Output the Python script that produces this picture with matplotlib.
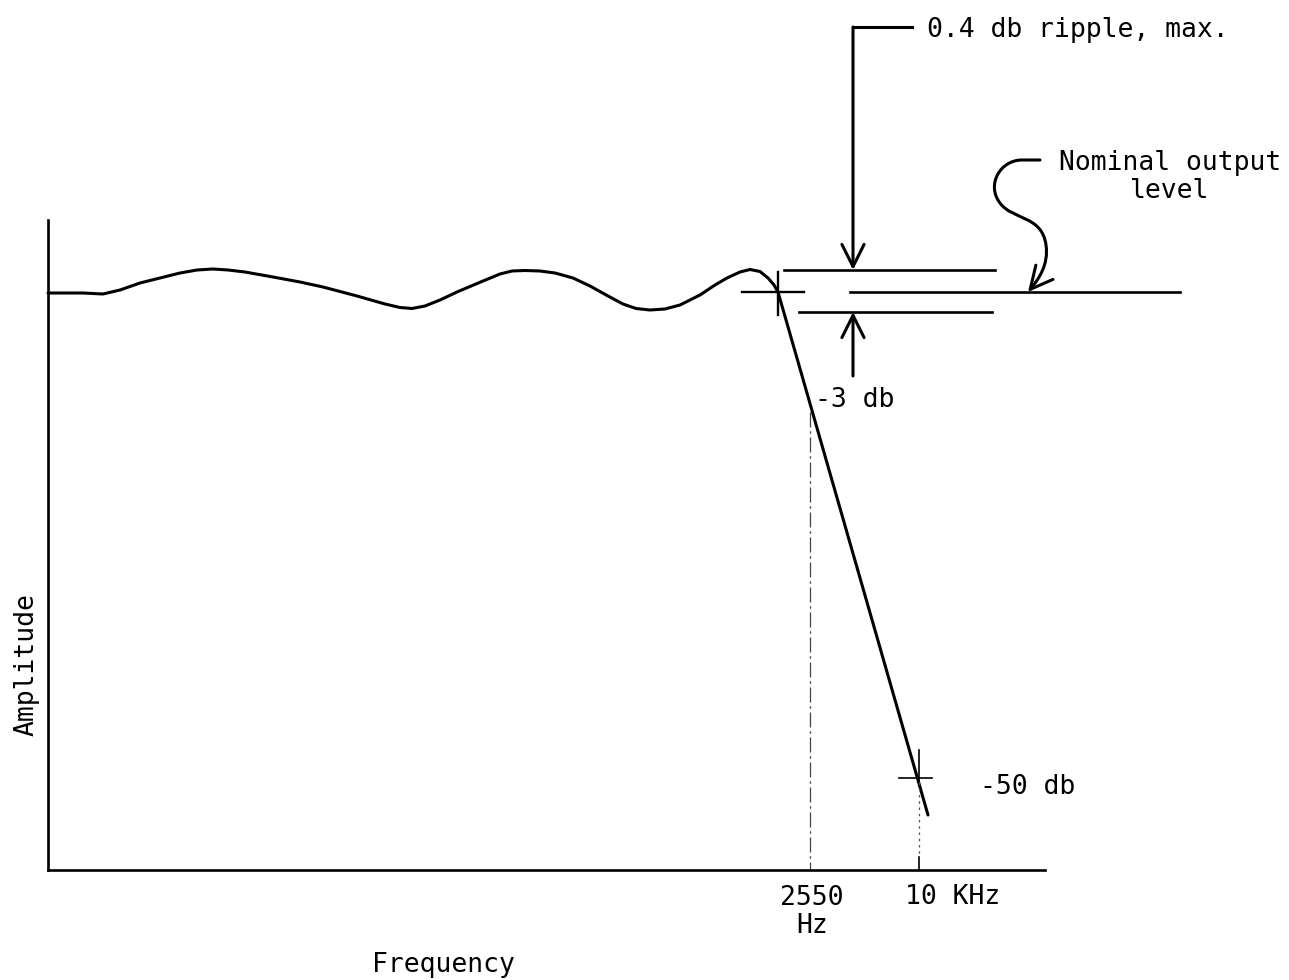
"""
Low-pass filter response sketch: passband ripple, -3 db at 2550 Hz, -50 db at 10 KHz.
Drawn in figure-pixel units (x right, y down) so the annotations line up with the scan.
"""
import matplotlib
matplotlib.use("Agg")
import matplotlib.pyplot as plt
from matplotlib.path import Path
from matplotlib.patches import FancyArrowPatch

plt.rcParams["font.family"] = ["DejaVu Sans Mono", "DejaVu Sans"]

# response curve (x = frequency position, y = amplitude position, y down)
resp_x = [48, 83, 103, 120, 140, 160, 180, 197, 213, 228, 245, 273, 300, 323, 357,
          385, 400, 412, 425, 440, 457, 483, 500, 512, 525, 540, 555, 573, 590, 608,
          623, 636, 650, 665, 680, 700, 715, 727, 740, 750, 760, 768, 774, 778, 928]
resp_y = [293, 293, 294, 290, 283, 278, 273, 270, 269, 270, 272, 277, 282, 287, 296,
          304, 307.5, 308.5, 306, 300, 292, 281, 274, 271, 270.5, 271, 273, 278, 286, 296,
          304, 308.5, 310, 309, 305, 295, 285, 278, 272, 269.5, 271.5, 278, 285, 292, 815]

# marker positions
f_3db, a_3db = 810, 404        # 2550 Hz, -3 db
f_50db, a_50db = 919, 778      # 10 KHz, -50 db
f_corner, a_nominal = 778, 292
a_ripple_top, a_ripple_bot = 270, 312

tick_labels = ["2550\nHz", "10 KHz"]

INK = "black"
FS = 19
HEAD = "->,head_length=0.8,head_width=0.4"

fig = plt.figure(figsize=(12.89, 9.80), dpi=100)
ax = fig.add_axes([48 / 1289, 110 / 980, 997 / 1289, 650 / 980])
ax.set_xlim(48, 1045)
ax.set_ylim(870, 220)
for s in ["top", "right"]:
    ax.spines[s].set_visible(False)
for s in ["left", "bottom"]:
    ax.spines[s].set_linewidth(1.9)
ax.set_xticks([])
ax.set_yticks([])

# response
ax.plot(resp_x, resp_y, color=INK, lw=2.2, solid_joinstyle="round",
        solid_capstyle="round", clip_on=False)

# -3 db / 2550 Hz drop line
ax.plot([f_3db, f_3db], [a_3db + 8, 870], color="#444444", lw=0.9,
        ls=(0, (12, 3, 2, 3)), clip_on=False)
# cross mark at the corner
ax.plot([742, 804], [a_nominal, a_nominal], color=INK, lw=1.7, clip_on=False)
ax.plot([f_corner, f_corner], [272, 315], color=INK, lw=1.7, clip_on=False)
# cross mark at -50 db and dotted drop to axis
ax.plot([899, 932], [a_50db, a_50db], color=INK, lw=1.2, clip_on=False)
ax.plot([f_50db, f_50db], [750, 782], color=INK, lw=1.2, clip_on=False)
ax.plot([f_50db, f_50db], [782, 857], color="#555555", lw=0.9, ls=(0, (2, 3)), clip_on=False)
ax.plot([f_50db, f_50db], [857, 870], color=INK, lw=1.2, clip_on=False)

# ripple band and nominal level
ax.plot([784, 995], [a_ripple_top, a_ripple_top], color=INK, lw=1.9, clip_on=False)
ax.plot([799, 992], [a_ripple_bot, a_ripple_bot], color=INK, lw=1.9, clip_on=False)
ax.plot([850, 1180], [a_nominal, a_nominal], color=INK, lw=1.9, clip_on=False)

# ripple arrows
arrow = dict(arrowstyle=HEAD, lw=2.2, color=INK, shrinkA=0, shrinkB=0, mutation_scale=20)
ax.plot([912, 853], [27, 27], color=INK, lw=2.2, clip_on=False)
ax.annotate("", xy=(853, a_ripple_top), xytext=(853, 27), arrowprops=arrow,
            annotation_clip=False)
ax.annotate("", xy=(853, a_ripple_bot), xytext=(853, 376), arrowprops=arrow,
            annotation_clip=False)
ax.text(927, 30, "0.4 db ripple, max.", fontsize=FS, ha="left", va="center")

# curly leader to nominal output level
verts = [(1040, 160), (1022, 160),
         (1000, 160), (986, 185), (1000, 203),
         (1012, 220), (1042, 215), (1046, 245),
         (1049, 265), (1038, 280), (1028, 292)]
codes = [Path.MOVETO, Path.LINETO,
         Path.CURVE4, Path.CURVE4, Path.CURVE4,
         Path.CURVE4, Path.CURVE4, Path.CURVE4,
         Path.CURVE4, Path.CURVE4, Path.CURVE4]
lead = FancyArrowPatch(path=Path(verts, codes), arrowstyle=HEAD,
                       lw=2.2, color=INK, mutation_scale=20, clip_on=False)
ax.add_patch(lead)
ax.text(1170, 177, "Nominal output\nlevel", fontsize=FS, ha="center", va="center",
        multialignment="center", linespacing=1.05)

# level labels
ax.text(815, 400, "-3 db", fontsize=FS, ha="left", va="center")
ax.text(980, 787, "-50 db", fontsize=FS, ha="left", va="center")

# frequency labels
ax.text(812, 912, tick_labels[0], fontsize=FS, ha="center", va="center",
        multialignment="center", linespacing=1.1)
ax.text(905, 897, tick_labels[1], fontsize=FS, ha="left", va="center")

ax.text(443, 965, "Frequency", fontsize=FS, ha="center", va="center")
ax.text(27, 665, "Amplitude", fontsize=FS, ha="center", va="center", rotation=90)

fig.savefig("out.png", dpi=100, facecolor="white")
